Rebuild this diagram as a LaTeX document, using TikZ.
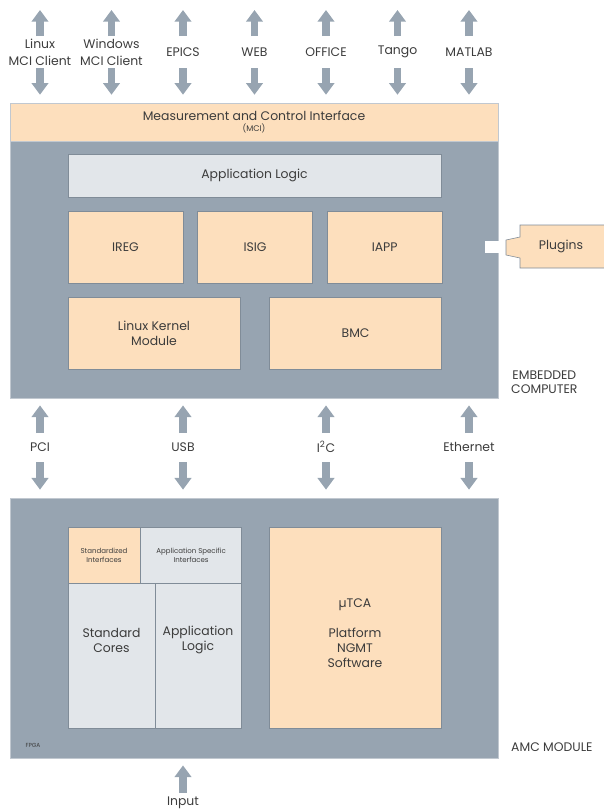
\documentclass[tikz,border=0pt]{standalone}
\usepackage{fontspec}
\setmainfont{Poppins}
\usetikzlibrary{positioning}
\usetikzlibrary{arrows.meta}
\definecolor{slate}{HTML}{97A4B1}
\definecolor{peach}{HTML}{FDDFBD}
\definecolor{pale}{HTML}{E2E6EA}
\definecolor{rim}{HTML}{808C98}
\definecolor{ink}{HTML}{3C3C3C}
\tikzset{>={Triangle[length=10pt,width=14pt]}}
\tikzset{fat/.style={->,draw=slate,line width=6pt}}
\tikzset{panel/.style={draw=slate!60,fill=slate,line width=0.6pt,inner sep=0pt}}
\tikzset{blk/.style={draw=rim,fill=peach,line width=0.5pt,text=ink,align=center,inner sep=0pt,font=\fontsize{10.6}{12.75}\selectfont}}
\tikzset{gblk/.style={blk,fill=pale}}
\tikzset{lbl/.style={text=ink,align=center,inner sep=0pt,font=\fontsize{10.6}{14.5}\selectfont}}
\tikzset{tiny/.style={text=ink,align=center,inner sep=0pt,font=\fontsize{6}{7.5}\selectfont}}

\begin{document}
\begin{tikzpicture}[x=0.03cm,y=-0.03cm]
\useasboundingbox (0,0) rectangle (603,810);
\coordinate (sky) at (0,10);

% embedded computer
\node[panel, minimum width=14.64cm, minimum height=8.85cm] (emb) at (254,250.5) {};
\node[blk, draw=slate!60, minimum width=14.64cm, minimum height=1.14cm] (mci) at (254,122)
 {Measurement and Control Interface\\[-3pt]{\fontsize{7}{8}\selectfont (MCI)}};
\node[gblk, minimum width=11.19cm, minimum height=1.29cm] (applog) at (254.5,175.5) {Application Logic};
\node[blk, minimum width=3.45cm, minimum height=2.16cm] (ireg) at (125.5,247) {IREG};
\node[blk, minimum width=3.45cm, minimum height=2.16cm, right=0.42cm of ireg] (isig) {ISIG};
\node[blk, minimum width=3.45cm, minimum height=2.16cm, right=0.42cm of isig] (iapp) {IAPP};
\node[blk, minimum width=5.16cm, minimum height=2.16cm] (lkm) at (154,333) {Linux Kernel\\Module};
\node[blk, minimum width=5.16cm, minimum height=2.16cm, right=0.87cm of lkm] (bmc) {BMC};
\node[lbl, anchor=west] (embtxt) at (511,382) {EMBEDDED\\[-3pt]COMPUTER};

% plugins
\fill[white] (485,241) rectangle (506,253);
\draw[rim, fill=peach, line width=0.5pt] (604,225) -- (520,225) -- (520,237) -- (506,240) -- (506,255)
 -- (520,258) -- (520,268) -- (604,268);
\node[lbl] (plug) at (561,246.5) {Plugins};

% clients
\node[lbl] (linux) at (40,52) {Linux\\MCI Client};
\draw[fat] (linux) ++(0,-16) -- (linux |- sky);
\draw[fat, shorten >=6.8pt] (linux) ++(0,16) -- (linux |- mci.north);
\node[lbl] (win) at (111.5,52) {Windows\\MCI Client};
\draw[fat] (win) ++(0,-16) -- (win |- sky);
\draw[fat, shorten >=6.8pt] (win) ++(0,16) -- (win |- mci.north);
\node[lbl] (epics) at (183,52) {EPICS};
\draw[fat] (epics) ++(0,-16) -- (epics |- sky);
\draw[fat, shorten >=6.8pt] (epics) ++(0,16) -- (epics |- mci.north);
\node[lbl] (web) at (254.5,52) {WEB};
\draw[fat] (web) ++(0,-16) -- (web |- sky);
\draw[fat, shorten >=6.8pt] (web) ++(0,16) -- (web |- mci.north);
\node[lbl] (office) at (326,52) {OFFICE};
\draw[fat] (office) ++(0,-16) -- (office |- sky);
\draw[fat, shorten >=6.8pt] (office) ++(0,16) -- (office |- mci.north);
\node[lbl] (tango) at (397.5,52) {Tango};
\draw[fat] (tango) ++(0,-16) -- (tango |- sky);
\draw[fat, shorten >=6.8pt] (tango) ++(0,16) -- (tango |- mci.north);
\node[lbl] (matlab) at (469,52) {MATLAB};
\draw[fat] (matlab) ++(0,-16) -- (matlab |- sky);
\draw[fat, shorten >=6.8pt] (matlab) ++(0,16) -- (matlab |- mci.north);

% amc module
\node[panel, minimum width=14.64cm, minimum height=7.8cm] (amc) at (254,628) {};
\node[blk, minimum width=2.16cm, minimum height=1.68cm, tiny] (stdif) at (104,555) {Standardized\\Interfaces};
\node[gblk, minimum width=3.03cm, minimum height=1.68cm, tiny, right=0pt of stdif] (appif) {Application Specific\\Interfaces};
\node[gblk, minimum width=2.61cm, minimum height=4.35cm] (cores) at (111.5,655.5) {};
\node[gblk, minimum width=2.58cm, minimum height=4.35cm, right=0pt of cores] (applog2) {};
\node[lbl, font=\fontsize{10.6}{12.75}\selectfont] (corestxt) at (111.5,640) {Standard\\Cores};
\node[lbl, font=\fontsize{10.6}{12.75}\selectfont] (applog2txt) at (198,640) {Application\\Logic};
\node[blk, minimum width=5.16cm, minimum height=6.03cm] (utca) at (355,627.5) {};
\node[lbl, font=\fontsize{10.6}{12.75}\selectfont] (utcatxt) at (355,633) {µTCA\\[12.75pt]Platform\\NGMT\\Software};
\node[tiny, font=\fontsize{5}{6}\selectfont] (fpga) at (33,745) {FPGA};
\node[lbl, anchor=west] (amctxt) at (511,747) {AMC MODULE};

% buses
\node[lbl] (pci) at (40,447) {PCI};
\draw[fat, shorten >=6pt] (pci) ++(0,-14) -- (pci |- emb.south);
\draw[fat, shorten >=6.8pt] (pci) ++(0,15) -- (pci |- amc.north);
\node[lbl] (usb) at (183,447) {USB};
\draw[fat, shorten >=6pt] (usb) ++(0,-14) -- (usb |- emb.south);
\draw[fat, shorten >=6.8pt] (usb) ++(0,15) -- (usb |- amc.north);
\node[lbl] (iic) at (326,447) {I\textsuperscript{2}C};
\draw[fat, shorten >=6pt] (iic) ++(0,-14) -- (iic |- emb.south);
\draw[fat, shorten >=6.8pt] (iic) ++(0,15) -- (iic |- amc.north);
\node[lbl] (eth) at (469,447) {Ethernet};
\draw[fat, shorten >=6pt] (eth) ++(0,-14) -- (eth |- emb.south);
\draw[fat, shorten >=6.8pt] (eth) ++(0,15) -- (eth |- amc.north);

\node[lbl] (inp) at (183,803) {Input};
\draw[fat, shorten >=6pt] (inp) ++(0,-10) -- (inp |- amc.south);
\end{tikzpicture}
\end{document}
